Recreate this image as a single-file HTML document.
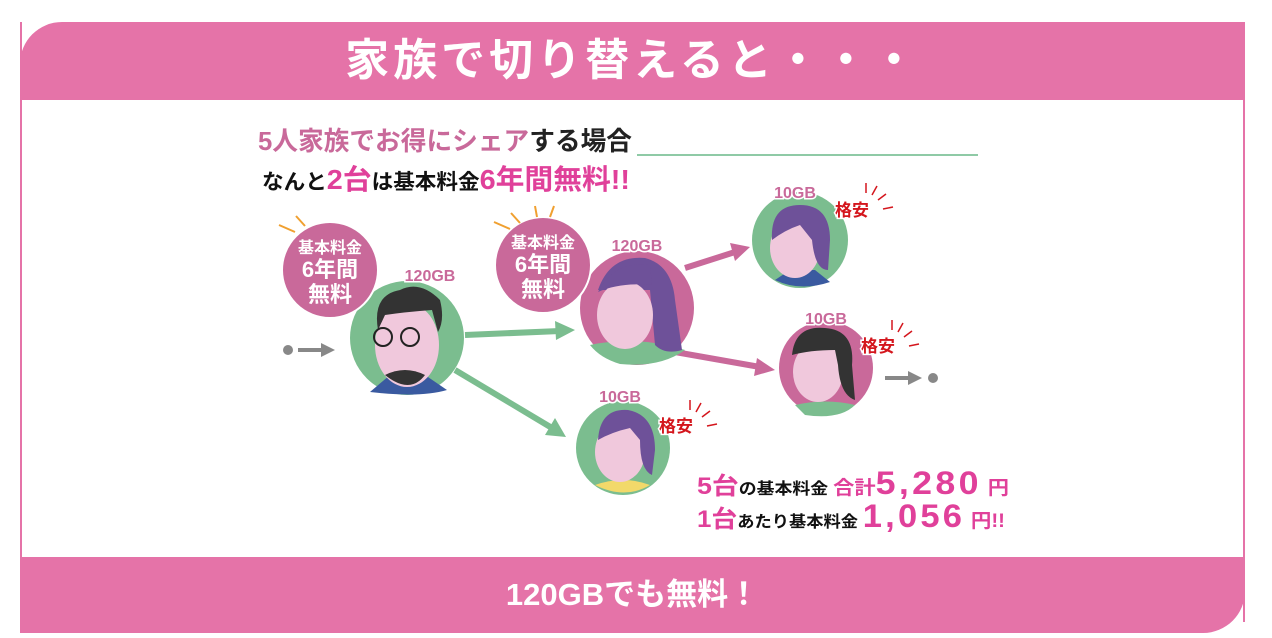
<!DOCTYPE html>
<html><head><meta charset="utf-8"><style>
body{margin:0;width:1272px;height:638px;background:#fff;overflow:hidden;font-family:"Liberation Sans","Noto Sans CJK JP",sans-serif}
.box{position:absolute;left:20px;top:22px;width:1221px;height:600px;border:2px solid #e573a8;border-top:none;border-bottom:none;}
.hd{position:absolute;left:20px;top:22px;width:1225px;height:78px;background:#e573a8;border-top-left-radius:42px;color:#fff;font-weight:bold;font-size:44px;text-align:center;line-height:78px;letter-spacing:4px}
.ft{position:absolute;left:20px;top:557px;width:1225px;height:76px;background:#e573a8;border-bottom-right-radius:42px;color:#fff;font-weight:bold;font-size:31px;text-align:center;line-height:76px}
svg{position:absolute;left:0;top:0}
</style></head><body>
<div class="box"></div>
<div class="hd">家族で切り替えると・・・</div>
<div class="ft">120GBでも無料！</div>
<svg width="1272" height="638" font-family="Liberation Sans,Noto Sans CJK JP,sans-serif" font-weight="bold">
<text x="258" y="150" font-size="26" fill="#c9699a" textLength="374" lengthAdjust="spacingAndGlyphs">5人家族でお得にシェア<tspan fill="#222">する場合</tspan></text>
<line x1="637" y1="155" x2="978" y2="155" stroke="#8fcaa6" stroke-width="2"/>
<text x="262" y="189" font-size="21" fill="#111" textLength="368" lengthAdjust="spacingAndGlyphs">なんと<tspan fill="#e0409a" font-size="28">2台</tspan>は基本料金<tspan fill="#e0409a" font-size="28">6年間無料!!</tspan></text>
<!-- arrows -->
<g stroke="#7bbd8f" stroke-width="6" fill="#7bbd8f">
<line x1="465" y1="335" x2="560" y2="331"/><polygon points="575,330 555,321 556,340" stroke="none"/>
<line x1="455" y1="370" x2="552" y2="428"/><polygon points="566,437 545,435 555,418" stroke="none"/>
</g>
<g stroke="#c9699a" stroke-width="6" fill="#c9699a">
<line x1="685" y1="268" x2="735" y2="252"/><polygon points="750,247 730,243 735,261" stroke="none"/>
<line x1="675" y1="352" x2="760" y2="367"/><polygon points="775,370 757,358 754,376" stroke="none"/>
</g>
<g fill="#888" stroke="#888" stroke-width="4">
<circle cx="288" cy="350" r="5" stroke="none"/><line x1="298" y1="350" x2="322" y2="350"/><polygon points="335,350 321,343 321,357" stroke="none"/>
<line x1="885" y1="378" x2="910" y2="378"/><polygon points="922,378 908,371 908,385" stroke="none"/><circle cx="933" cy="378" r="5" stroke="none"/>
</g>
<!-- dad -->
<circle cx="407" cy="338" r="57" fill="#7bbd8f"/>
<path d="M370,392 L390,375 L425,375 L447,390 Q420,398 370,392Z" fill="#3a5aa0"/>
<ellipse cx="407" cy="345" rx="32" ry="42" fill="#f0c8dc"/>
<path d="M378,330 Q372,295 400,290 Q420,280 440,300 Q445,320 438,332 L432,310 Q405,312 385,315 Z" fill="#333"/>
<path d="M385,375 Q405,365 425,375 Q410,395 385,375Z" fill="#333"/>
<circle cx="383" cy="337" r="9" fill="none" stroke="#222" stroke-width="2"/><circle cx="410" cy="337" r="9" fill="none" stroke="#222" stroke-width="2"/>
<!-- woman -->
<circle cx="637" cy="308" r="57" fill="#c9699a"/>
<path d="M590,345 Q637,335 685,350 Q660,368 620,364 Q600,358 590,345Z" fill="#7bbd8f"/>
<path d="M598,290 Q610,255 645,258 Q672,265 675,300 L682,350 Q665,355 655,345 L650,290 Z" fill="#6e5199"/>
<ellipse cx="625" cy="315" rx="28" ry="34" fill="#f0c8dc"/>
<path d="M598,292 Q615,260 650,265 L652,285 Q620,282 598,292Z" fill="#6e5199"/>
<!-- small circles -->
<circle cx="800" cy="240" r="48" fill="#7bbd8f"/>
<path d="M775,280 L790,270 L815,270 L830,282 Q800,292 775,280Z" fill="#3a5aa0"/>
<ellipse cx="795" cy="248" rx="25" ry="30" fill="#f0c8dc"/>
<path d="M772,240 Q770,205 800,205 Q830,205 830,240 L828,270 Q815,270 812,240 L800,225 Q785,230 772,240Z" fill="#6e5199"/>
<circle cx="826" cy="368" r="47" fill="#c9699a"/>
<path d="M795,405 Q826,398 855,405 Q840,420 805,415Z" fill="#7bbd8f"/>
<ellipse cx="818" cy="372" rx="25" ry="30" fill="#f0c8dc"/>
<path d="M792,355 Q795,325 825,328 Q855,330 852,365 L855,400 Q840,395 838,365 L835,350 Q810,350 792,355Z" fill="#333"/>
<circle cx="623" cy="448" r="47" fill="#7bbd8f"/>
<path d="M595,485 Q623,475 650,485 Q625,500 595,485Z" fill="#f2d96a"/>
<ellipse cx="620" cy="452" rx="25" ry="30" fill="#f0c8dc"/>
<path d="M598,440 Q600,408 628,410 Q655,415 655,450 L652,475 Q640,470 640,440 L630,428 Q612,432 598,440Z" fill="#6e5199"/>
<!-- badges -->
<g fill="#c9699a" stroke="#fff" stroke-width="2"><circle cx="330" cy="270" r="48"/><circle cx="543" cy="265" r="48"/></g>
<g stroke="#f0a030" stroke-width="2"><line x1="279" y1="225" x2="295" y2="232"/><line x1="296" y1="216" x2="305" y2="226"/><line x1="494" y1="222" x2="510" y2="229"/><line x1="511" y1="213" x2="520" y2="223"/><line x1="535" y1="206" x2="537" y2="217"/><line x1="554" y1="206" x2="550" y2="217"/></g>
<g fill="#fff" text-anchor="middle"><text x="330" y="253" font-size="16">基本料金</text><text x="330" y="277" font-size="22">6年間</text><text x="330" y="302" font-size="22">無料</text>
<text x="543" y="248" font-size="16">基本料金</text><text x="543" y="272" font-size="22">6年間</text><text x="543" y="297" font-size="22">無料</text></g>
<g fill="#c9699a" font-size="16" text-anchor="middle" stroke="#fff" stroke-width="3" paint-order="stroke"><text x="430" y="281">120GB</text><text x="637" y="251">120GB</text><text x="795" y="198">10GB</text><text x="826" y="324">10GB</text><text x="620" y="402">10GB</text></g>
<g fill="#d4161d" font-size="17" stroke="#fff" stroke-width="3" paint-order="stroke"><text x="835" y="216">格安</text><text x="861" y="352">格安</text><text x="659" y="432">格安</text></g>
<g stroke="#d4161d" stroke-width="1.5"><line x1="866" y1="183" x2="866" y2="193"/><line x1="877" y1="186" x2="872" y2="195"/><line x1="886" y1="194" x2="878" y2="200"/><line x1="893" y1="207" x2="883" y2="209"/>
<line x1="892" y1="320" x2="892" y2="330"/><line x1="903" y1="323" x2="898" y2="332"/><line x1="912" y1="331" x2="904" y2="337"/><line x1="919" y1="344" x2="909" y2="346"/>
<line x1="690" y1="400" x2="690" y2="410"/><line x1="701" y1="403" x2="696" y2="412"/><line x1="710" y1="411" x2="702" y2="417"/><line x1="717" y1="424" x2="707" y2="426"/></g>
<text x="697" y="494" font-size="16" fill="#111" textLength="312" lengthAdjust="spacingAndGlyphs"><tspan fill="#e0409a" font-size="24">5台</tspan>の基本料金 <tspan fill="#e0409a" font-size="19">合計</tspan><tspan fill="#e0409a" font-size="32" letter-spacing="3">5,280</tspan><tspan fill="#e0409a" font-size="19"> 円</tspan></text>
<text x="697" y="527" font-size="16" fill="#111" textLength="308" lengthAdjust="spacingAndGlyphs"><tspan fill="#e0409a" font-size="24">1台</tspan>あたり基本料金 <tspan fill="#e0409a" font-size="32" letter-spacing="3">1,056</tspan><tspan fill="#e0409a" font-size="19"> 円!!</tspan></text>
</svg>
</body></html>
